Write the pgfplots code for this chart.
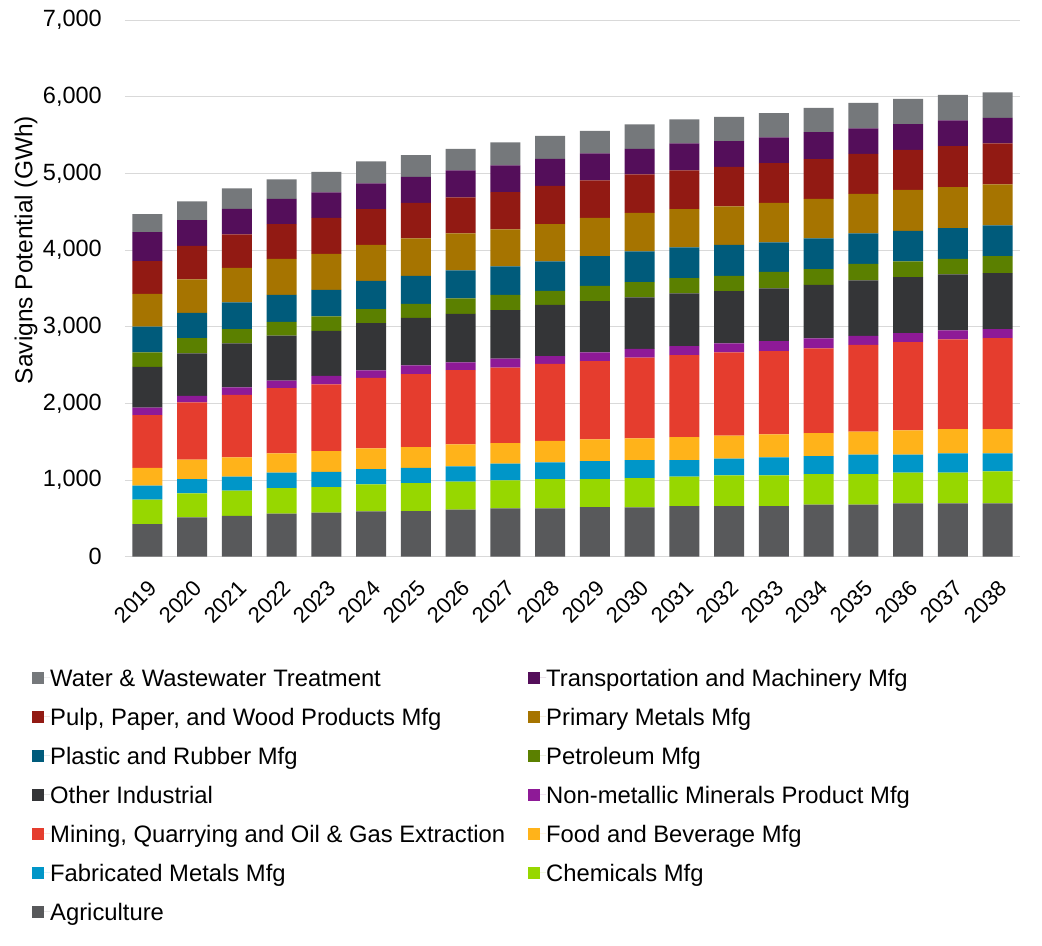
\documentclass[border=0pt]{standalone}
\usepackage{pgfplots}
\pgfplotsset{compat=1.18}
\usepackage{pgfplotstable}
\usepackage{fontspec}
\setmainfont{Liberation Sans}

\definecolor{cAg}{HTML}{58595B}
\definecolor{cChem}{HTML}{97D700}
\definecolor{cFab}{HTML}{0096C8}
\definecolor{cFood}{HTML}{FFB31A}
\definecolor{cMining}{HTML}{E53D2E}
\definecolor{cNonmet}{HTML}{8E1A97}
\definecolor{cOther}{HTML}{343537}
\definecolor{cPetro}{HTML}{5B8000}
\definecolor{cPlastic}{HTML}{005B7B}
\definecolor{cPrimary}{HTML}{A67400}
\definecolor{cPulp}{HTML}{921A13}
\definecolor{cTransport}{HTML}{540E5A}
\definecolor{cWater}{HTML}{75787B}
\definecolor{gridgray}{HTML}{D9D9D9}

\pgfplotstableread{
x Ag Chem Fab Food Mining Nonmet Other Petro Plastic Primary Pulp Transport Water
0 426 317 183 234 687 96 534 188 335 429 426 378 235
1 513 314 186 252 748 86 553 199 330 436 438 335 244
2 531 330 182 253 816 97 573 187 348 451 436 333 267
3 561 335 199 253 852 95 587 182 352 469 453 330 252
4 574 335 199 270 870 112 587 187 347 469 470 331 269
5 592 352 199 270 921 96 617 182 369 470 465 335 287
6 594 367 199 270 952 113 621 183 365 487 465 338 283
7 613 365 201 286 969 100 634 201 365 482 470 352 281
8 631 365 217 269 983 117 635 199 370 483 486 348 300
9 631 382 218 281 1004 101 669 182 383 487 499 352 300
10 648 365 235 283 1020 114 669 199 387 500 487 352 295
11 644 382 235 283 1051 117 670 200 400 503 501 333 319
12 661 382 218 300 1069 117 687 200 400 499 505 352 313
13 661 400 217 300 1087 117 682 200 404 500 517 335 317
14 661 400 235 300 1086 130 687 217 383 516 518 335 317
15 678 400 235 300 1104 130 699 205 400 517 517 352 317
16 678 400 252 300 1134 117 723 216 396 517 521 331 334
17 696 399 235 318 1151 118 730 204 399 535 521 336 329
18 696 399 253 317 1169 118 730 203 401 534 534 336 333
19 696 417 235 317 1186 118 730 221 401 534 535 334 331
}\datatable

\newcommand{\chartfont}{\fontsize{23.5bp}{28bp}\selectfont}

\begin{document}
\begin{tikzpicture}
\useasboundingbox (-125bp,-389.3bp) rectangle (917bp,556.7bp);
\begin{axis}[
  scale only axis,
  width=895bp, height=536.7bp,
  at={(0,0)}, anchor=south west,
  ybar stacked, bar width=30bp,
  xmin=-0.5, xmax=19.5, ymin=0, ymax=7000,
  xtick={0,...,19},
  xticklabels={2019,2020,2021,2022,2023,2024,2025,2026,2027,2028,2029,2030,2031,2032,2033,2034,2035,2036,2037,2038},
  ytick={0,1000,2000,3000,4000,5000,6000,7000},
  axis line style={draw=none},
  major tick length=0pt,
  ymajorgrids,
  grid style={line width=1bp, color=gridgray},
  scaled y ticks=false,
  /pgf/number format/1000 sep={,},
  /pgf/number format/assume math mode=true,
  yticklabel style={font=\chartfont, anchor=east, inner sep=0pt, xshift=-23bp},
  xticklabel style={font=\fontsize{22bp}{26bp}\selectfont, xshift=0bp, yshift=-22bp, rotate=45, anchor=north east, inner sep=0pt},
  ylabel={Savigns Potential (GWh)},
  ylabel style={at={(axis description cs:-0.1106,0.5715)}, anchor=center, font=\fontsize{24.5bp}{29bp}\selectfont},
  legend columns=2,
  reverse legend,
  legend style={at={(axis description cs:-0.1039,-0.2083)}, anchor=north west,
    draw=none, fill=none, inner sep=0pt, column sep=0pt, row sep=20.8bp,
    cells={anchor=west},
    nodes={inner sep=0pt, text height=17.5bp, text depth=0.7bp},
    font=\fontsize{23.8bp}{28bp}\selectfont},
  legend image code/.code={\draw[#1, draw=none] (0bp,-6bp) rectangle (12bp,6bp); \path (0bp,0bp) -- (18bp,0bp);},
]
\addplot[fill=cAg, draw=none] table[x=x, y=Ag] {\datatable};
\addlegendentry{\makebox[478bp][l]{Agriculture}}
\addplot[fill=cChem, draw=none] table[x=x, y=Chem] {\datatable};
\addlegendentry{Chemicals Mfg}
\addplot[fill=cFab, draw=none] table[x=x, y=Fab] {\datatable};
\addlegendentry{\makebox[478bp][l]{Fabricated Metals Mfg}}
\addplot[fill=cFood, draw=none] table[x=x, y=Food] {\datatable};
\addlegendentry{Food and Beverage Mfg}
\addplot[fill=cMining, draw=none] table[x=x, y=Mining] {\datatable};
\addlegendentry{\makebox[478bp][l]{Mining, Quarrying and Oil \& Gas Extraction}}
\addplot[fill=cNonmet, draw=none] table[x=x, y=Nonmet] {\datatable};
\addlegendentry{Non-metallic Minerals Product Mfg}
\addplot[fill=cOther, draw=none] table[x=x, y=Other] {\datatable};
\addlegendentry{\makebox[478bp][l]{Other Industrial}}
\addplot[fill=cPetro, draw=none] table[x=x, y=Petro] {\datatable};
\addlegendentry{Petroleum Mfg}
\addplot[fill=cPlastic, draw=none] table[x=x, y=Plastic] {\datatable};
\addlegendentry{\makebox[478bp][l]{Plastic and Rubber Mfg}}
\addplot[fill=cPrimary, draw=none] table[x=x, y=Primary] {\datatable};
\addlegendentry{Primary Metals Mfg}
\addplot[fill=cPulp, draw=none] table[x=x, y=Pulp] {\datatable};
\addlegendentry{\makebox[478bp][l]{Pulp, Paper, and Wood Products Mfg}}
\addplot[fill=cTransport, draw=none] table[x=x, y=Transport] {\datatable};
\addlegendentry{Transportation and Machinery Mfg}
\addplot[fill=cWater, draw=none] table[x=x, y=Water] {\datatable};
\addlegendentry{\makebox[478bp][l]{Water \& Wastewater Treatment}}
\end{axis}
\end{tikzpicture}
\end{document}
